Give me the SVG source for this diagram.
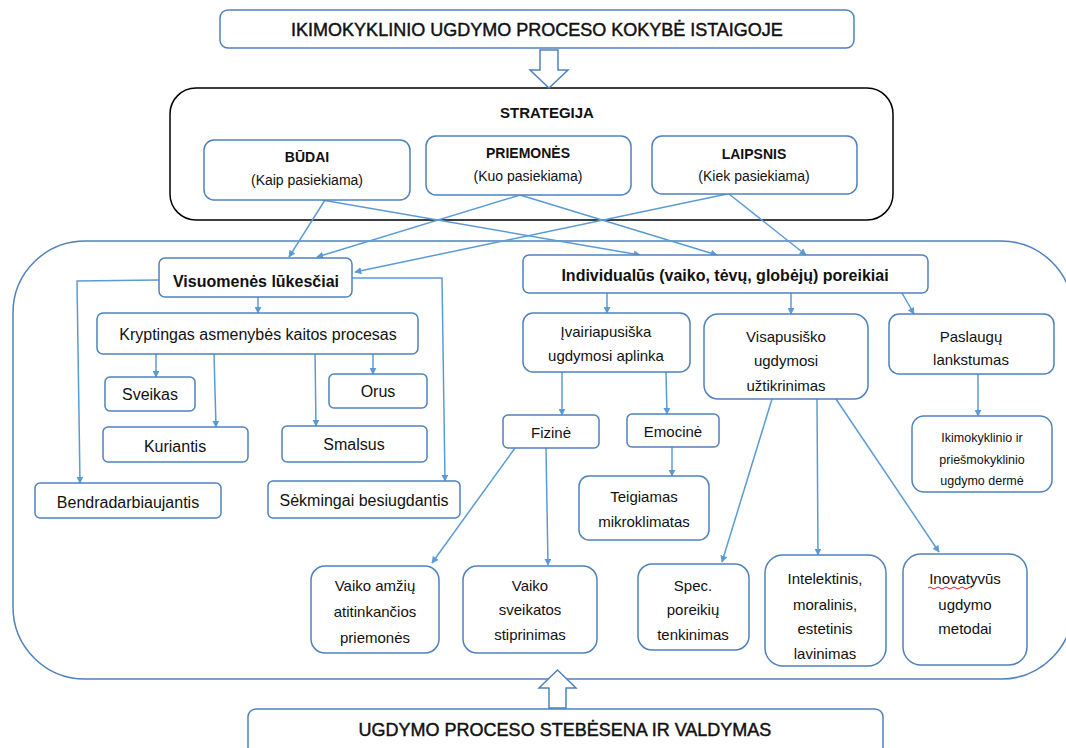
<svg xmlns="http://www.w3.org/2000/svg" width="1066" height="748" viewBox="0 0 1066 748">
<style>
.box{fill:#fff;stroke:#4f81bd;stroke-width:1.5}
.big{fill:none;stroke:#4f81bd;stroke-width:1.5}
.strat{fill:#fff;stroke:#000;stroke-width:1.5}
.open{fill:#fff;stroke:#4f81bd;stroke-width:1.5}
.c{fill:none;stroke:#5b9bd5;stroke-width:1.5;marker-end:url(#ah)}
text{font-family:"Liberation Sans",Arial,sans-serif;fill:#111;text-anchor:middle}
.t18{font-size:18px;stroke:#111;stroke-width:0.45}
.b16{font-size:16px;font-weight:bold}
.b14{font-size:15px;font-weight:bold}
.b13{font-size:14px;font-weight:bold}
.n16{font-size:16px}
.n15{font-size:15px}
.n13{font-size:14px}
.n12{font-size:12.5px}
</style>
<defs>
<marker id="ah" viewBox="0 0 10 10" refX="9" refY="5" markerWidth="7" markerHeight="7" orient="auto" markerUnits="userSpaceOnUse">
<path d="M0,0 L10,5 L0,10 z" fill="#5b9bd5"/>
</marker>
</defs>
<rect width="1066" height="748" fill="#fff"/>

<!-- containers -->
<rect class="strat" x="170" y="88" width="723" height="132" rx="26"/>
<rect class="big" x="13" y="241" width="1060" height="438" rx="72"/>

<!-- block arrows -->
<path class="open" d="M540,50 L558,50 L558,70 L568,70 L549,88 L530,70 L540,70 Z"/>
<path class="open" d="M549,708 L566,708 L566,688 L576,688 L557.5,670 L539,688 L549,688 Z"/>

<g id="connectors">
<line class="c" x1="325" y1="200" x2="289" y2="257"/>
<line class="c" x1="322" y1="200" x2="640" y2="255"/>
<line class="c" x1="520" y1="195" x2="317" y2="257"/>
<line class="c" x1="520" y1="195" x2="717" y2="255"/>
<line class="c" x1="727" y1="194" x2="355" y2="272"/>
<line class="c" x1="729" y1="194" x2="806" y2="255"/>
<polyline class="c" points="159,280 77,281 80,483"/>
<polyline class="c" points="352,278 442,278 445,481"/>
<line class="c" x1="258" y1="297" x2="258" y2="313"/>
<line class="c" x1="156" y1="354" x2="156" y2="377"/>
<line class="c" x1="214" y1="354" x2="216" y2="427"/>
<line class="c" x1="315" y1="352" x2="316" y2="426"/>
<line class="c" x1="373" y1="354" x2="373" y2="374"/>
<line class="c" x1="607" y1="293" x2="607" y2="313"/>
<line class="c" x1="791" y1="293" x2="791" y2="314"/>
<line class="c" x1="902" y1="293" x2="914" y2="314"/>
<line class="c" x1="562" y1="372" x2="562" y2="415"/>
<line class="c" x1="666" y1="372" x2="667" y2="414"/>
<line class="c" x1="672" y1="447" x2="672" y2="476"/>
<line class="c" x1="978" y1="374" x2="978" y2="416"/>
<line class="c" x1="515" y1="448" x2="432" y2="563"/>
<line class="c" x1="546" y1="448" x2="548" y2="565"/>
<line class="c" x1="772" y1="399" x2="722" y2="562"/>
<line class="c" x1="817" y1="399" x2="818" y2="555"/>
<line class="c" x1="836" y1="399" x2="939" y2="552"/>
</g>

<g id="n-top">
<rect class="box" x="220" y="10" width="634" height="38" rx="8"/>
<text class="t18" x="537" y="36">IKIMOKYKLINIO UGDYMO PROCESO KOKYBĖ ISTAIGOJE</text>
</g>
<g id="n-strategija">
<text class="b14" x="547" y="118">STRATEGIJA</text>
</g>
<g id="n-budai">
<rect class="box" x="204" y="140" width="206" height="60" rx="10"/>
<text class="b13" x="307" y="162">BŪDAI</text>
<text class="n13" x="307" y="185">(Kaip pasiekiama)</text>
</g>
<g id="n-priemones">
<rect class="box" x="426" y="136" width="205" height="59" rx="10"/>
<text class="b13" x="528" y="158">PRIEMONĖS</text>
<text class="n13" x="528" y="181">(Kuo pasiekiama)</text>
</g>
<g id="n-laipsnis">
<rect class="box" x="652" y="136" width="205" height="58" rx="10"/>
<text class="b13" x="754" y="159">LAIPSNIS</text>
<text class="n13" x="754" y="181">(Kiek pasiekiama)</text>
</g>
<g id="n-visuomenes">
<rect class="box" x="159" y="258" width="193" height="39" rx="6"/>
<text class="b16" x="256" y="287">Visuomenės lūkesčiai</text>
</g>
<g id="n-individualus">
<rect class="box" x="523" y="255" width="405" height="38" rx="6"/>
<text class="b16" x="725" y="281">Individualūs (vaiko, tėvų, globėjų) poreikiai</text>
</g>
<g id="n-kryptingas">
<rect class="box" x="97" y="313" width="321" height="41" rx="6"/>
<text class="n16" x="258" y="340">Kryptingas asmenybės kaitos procesas</text>
</g>
<g id="n-sveikas">
<rect class="box" x="105" y="377" width="90" height="34" rx="5"/>
<text class="n16" x="150" y="400">Sveikas</text>
</g>
<g id="n-orus">
<rect class="box" x="329" y="374" width="98" height="34" rx="5"/>
<text class="n16" x="378" y="397">Orus</text>
</g>
<g id="n-kuriantis">
<rect class="box" x="103" y="427" width="145" height="35" rx="5"/>
<text class="n16" x="175" y="452">Kuriantis</text>
</g>
<g id="n-smalsus">
<rect class="box" x="282" y="426" width="145" height="36" rx="5"/>
<text class="n16" x="354" y="450">Smalsus</text>
</g>
<g id="n-bendradarbiaujantis">
<rect class="box" x="35" y="483" width="186" height="35" rx="5"/>
<text class="n16" x="128" y="508">Bendradarbiaujantis</text>
</g>
<g id="n-sekmingai">
<rect class="box" x="268" y="481" width="192" height="37" rx="5"/>
<text class="n16" x="364" y="506">Sėkmingai besiugdantis</text>
</g>
<g id="n-ivairiapusiska">
<rect class="box" x="523" y="313" width="167" height="59" rx="10"/>
<text class="n15" x="606" y="337">Įvairiapusiška</text>
<text class="n15" x="606" y="361">ugdymosi aplinka</text>
</g>
<g id="n-visapusisko">
<rect class="box" x="704" y="314" width="164" height="85" rx="14"/>
<text class="n15" x="786" y="342">Visapusiško</text>
<text class="n15" x="786" y="366">ugdymosi</text>
<text class="n15" x="786" y="391">užtikrinimas</text>
</g>
<g id="n-paslaugu">
<rect class="box" x="889" y="314" width="165" height="60" rx="10"/>
<text class="n15" x="971" y="342">Paslaugų</text>
<text class="n15" x="971" y="365">lankstumas</text>
</g>
<g id="n-derme">
<rect class="box" x="912" y="416" width="140" height="76" rx="12"/>
<text class="n12" x="982" y="442">Ikimokyklinio ir</text>
<text class="n12" x="982" y="464">priešmokyklinio</text>
<text class="n12" x="982" y="485">ugdymo dermė</text>
</g>
<g id="n-fizine">
<rect class="box" x="503" y="415" width="96" height="33" rx="5"/>
<text class="n15" x="551" y="438">Fizinė</text>
</g>
<g id="n-emocine">
<rect class="box" x="627" y="414" width="92" height="33" rx="5"/>
<text class="n15" x="673" y="437">Emocinė</text>
</g>
<g id="n-teigiamas">
<rect class="box" x="579" y="476" width="130" height="64" rx="10"/>
<text class="n15" x="644" y="502">Teigiamas</text>
<text class="n15" x="644" y="527">mikroklimatas</text>
</g>
<g id="n-vaiko-amziu">
<rect class="box" x="311" y="566" width="128" height="87" rx="14"/>
<text class="n15" x="375" y="591">Vaiko amžių</text>
<text class="n15" x="375" y="617">atitinkančios</text>
<text class="n15" x="375" y="643">priemonės</text>
</g>
<g id="n-vaiko-sveikatos">
<rect class="box" x="463" y="566" width="134" height="87" rx="14"/>
<text class="n15" x="530" y="591">Vaiko</text>
<text class="n15" x="530" y="615">sveikatos</text>
<text class="n15" x="530" y="640">stiprinimas</text>
</g>
<g id="n-spec">
<rect class="box" x="638" y="564" width="111" height="86" rx="14"/>
<text class="n15" x="693" y="591">Spec.</text>
<text class="n15" x="693" y="615">poreikių</text>
<text class="n15" x="693" y="640">tenkinimas</text>
</g>
<g id="n-intelektinis">
<rect class="box" x="765" y="555" width="121" height="111" rx="18"/>
<text class="n15" x="825" y="584">Intelektinis,</text>
<text class="n15" x="825" y="610">moralinis,</text>
<text class="n15" x="825" y="634">estetinis</text>
<text class="n15" x="825" y="659">lavinimas</text>
</g>
<g id="n-inovatyvus">
<rect class="box" x="903" y="554" width="124" height="111" rx="18"/>
<text class="n15" x="965" y="584">Inovatyvūs</text>
<path d="M928,588 q2,-2 4,0 t4,0 t4,0 t4,0 t4,0 t4,0 t4,0 t4,0 t4,0 t4,0 t4,0" fill="none" stroke="#e02020" stroke-width="1"/>
<text class="n15" x="965" y="610">ugdymo</text>
<text class="n15" x="965" y="634">metodai</text>
</g>
<g id="n-bottom">
<rect class="box" x="248" y="709" width="635" height="50" rx="8"/>
<text class="t18" x="565" y="736">UGDYMO PROCESO STEBĖSENA IR VALDYMAS</text>
</g>
</svg>
